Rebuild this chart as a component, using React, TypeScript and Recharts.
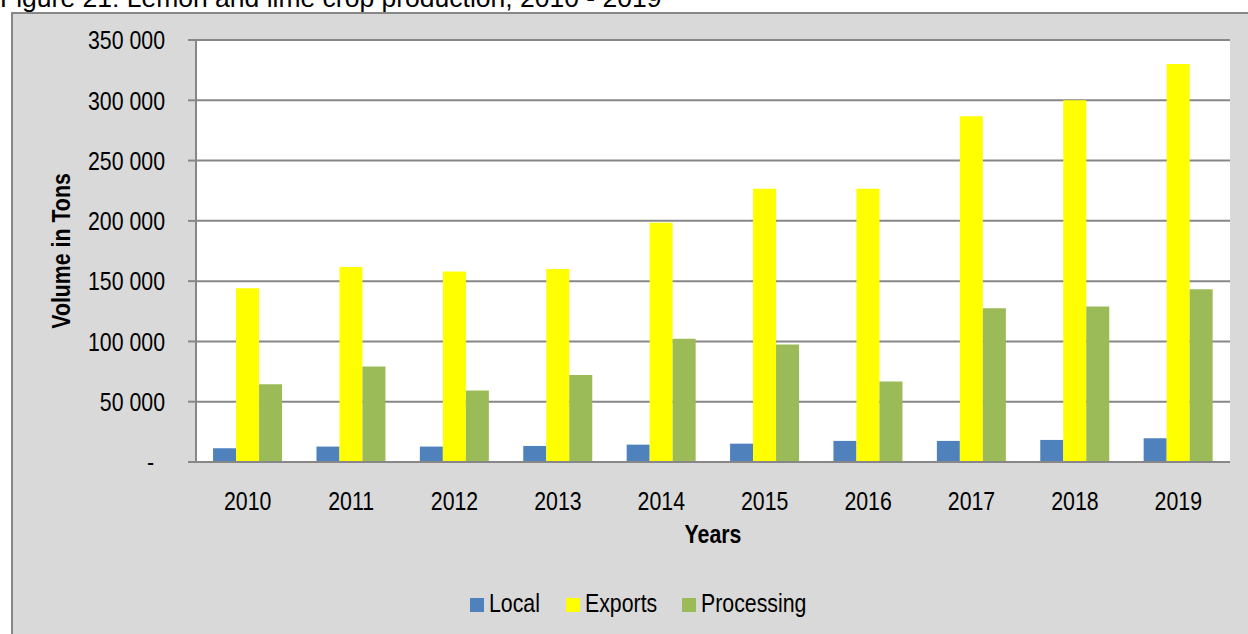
import React from 'react';
import { BarChart, Bar, XAxis, YAxis, CartesianGrid, Legend } from 'recharts';

const years = ['2010', '2011', '2012', '2013', '2014', '2015', '2016', '2017', '2018', '2019'];
const local = [11400, 12800, 12800, 13300, 14400, 15200, 17500, 17500, 18300, 19700];
const exportsVol = [144200, 161700, 158000, 160000, 198500, 226700, 226700, 286700, 300000, 330000];
const processing = [64400, 79200, 59200, 72200, 102200, 97500, 66700, 127500, 129000, 143300];
const yTicks = [0, 50000, 100000, 150000, 200000, 250000, 300000, 350000];
const edgeTicks = [0, 1, 2, 3, 4, 5, 6, 7, 8, 9, 10];

const series = [
  { key: 'local', name: 'Local', color: '#4f81bd' },
  { key: 'exports', name: 'Exports', color: '#ffff00' },
  { key: 'processing', name: 'Processing', color: '#9bbb59' },
];

const data = years.map((year, i) => ({
  year,
  local: local[i],
  exports: exportsVol[i],
  processing: processing[i],
}));

const FONT = "'Liberation Sans', Arial, sans-serif";
const SX = 0.82; // squeeze Arial into an Arial Narrow look
const LINE = '#878787';

const fmt = (v: number) => (v === 0 ? '-' : String(v).replace(/\B(?=(\d{3})+(?!\d))/g, ' '));

function Narrow({ x, y, anchor = 'start', bold = false, rotate = 0, sx = SX, size = 26, dy, children }: any) {
  return (
    <text
      transform={`translate(${x},${y}) rotate(${rotate}) scale(${sx},1)`}
      textAnchor={anchor}
      fontFamily={FONT}
      fontSize={size}
      fontWeight={bold ? 'bold' : 'normal'}
      fill="#000"
      dy={dy}
    >
      {children}
    </text>
  );
}

const YTick = (props: any) => {
  const { x, y, payload } = props;
  const v = payload.value;
  return (
    <Narrow x={v === 0 ? x - 11 : x} y={y} anchor="end" dy="0.355em">
      {fmt(v)}
    </Narrow>
  );
};

const XTick = (props: any) => {
  const { x, y, payload } = props;
  return (
    <Narrow x={x} y={y} anchor="middle" dy="0.71em">
      {payload.value}
    </Narrow>
  );
};

const YLabel = (props: any) => {
  const { viewBox } = props;
  return (
    <Narrow x={viewBox.x + 70} y={viewBox.y + viewBox.height / 2} anchor="middle" bold rotate={-90}>
      Volume in Tons
    </Narrow>
  );
};

const XLabel = (props: any) => {
  const { viewBox } = props;
  return (
    <Narrow x={viewBox.x + viewBox.width / 2} y={viewBox.y + 71} anchor="middle" bold>
      Years
    </Narrow>
  );
};

const legendOffsets = [0, 96, 212];

const LegendContent = () => (
  <svg width={360} height={30} style={{ overflow: 'visible', display: 'block' }}>
    {series.map((s, i) => (
      <g key={s.key}>
        <rect x={legendOffsets[i]} y={10} width={14} height={14} fill={s.color} />
        <Narrow x={legendOffsets[i] + 19} y={24}>
          {s.name}
        </Narrow>
      </g>
    ))}
  </svg>
);

export default function App() {
  return (
    <div style={{ position: 'absolute', left: 0, top: 0, width: 1248, height: 634, overflow: 'hidden', background: '#fff' }}>
      <div
        style={{
          position: 'absolute',
          left: 11,
          top: 12,
          width: 1300,
          height: 700,
          background: '#d9d9d9',
          borderLeft: `2px solid ${LINE}`,
          borderTop: `2px solid ${LINE}`,
        }}
      />
      <svg width={1248} height={14} style={{ position: 'absolute', left: 0, top: 0, overflow: 'visible' }}>
        <Narrow x={0} y={7} sx={1} size={26.5}>
          Figure 21: Lemon and lime crop production, 2010 - 2019
        </Narrow>
      </svg>
      <div style={{ position: 'absolute', left: 0, top: 0 }}>
        <BarChart
          width={1248}
          height={634}
          data={data}
          margin={{ top: 40, right: 18, left: 0, bottom: 0 }}
          barCategoryGap="16.5%"
          barGap={0}
        >
          <CartesianGrid xAxisId="b-cat" vertical={false} stroke={LINE} strokeWidth={2} fill="#ffffff" fillOpacity={1} />
          <XAxis
            xAxisId="a-edge"
            type="number"
            domain={[0, 10]}
            ticks={edgeTicks}
            allowDataOverflow
            tick={false}
            tickSize={8}
            tickLine={{ stroke: LINE, strokeWidth: 2 }}
            axisLine={{ stroke: LINE, strokeWidth: 2 }}
            height={10}
          />
          <XAxis
            xAxisId="b-cat"
            dataKey="year"
            interval={0}
            axisLine={false}
            tickLine={false}
            tickSize={0}
            tickMargin={20}
            tick={<XTick />}
            height={162}
            label={<XLabel />}
          />
          <YAxis
            domain={[0, 350000]}
            ticks={yTicks}
            width={196}
            tickSize={8}
            tickMargin={23}
            tickLine={{ stroke: LINE, strokeWidth: 2 }}
            axisLine={{ stroke: LINE, strokeWidth: 2 }}
            tick={<YTick />}
            label={<YLabel />}
          />
          <Legend
            verticalAlign="middle"
            align="center"
            layout="horizontal"
            wrapperStyle={{ top: 588, left: 470, width: 360, height: 30 }}
            content={<LegendContent />}
          />
          {series.map((s) => (
            <Bar key={s.key} xAxisId="b-cat" dataKey={s.key} name={s.name} fill={s.color} isAnimationActive={false} />
          ))}
        </BarChart>
      </div>
    </div>
  );
}
